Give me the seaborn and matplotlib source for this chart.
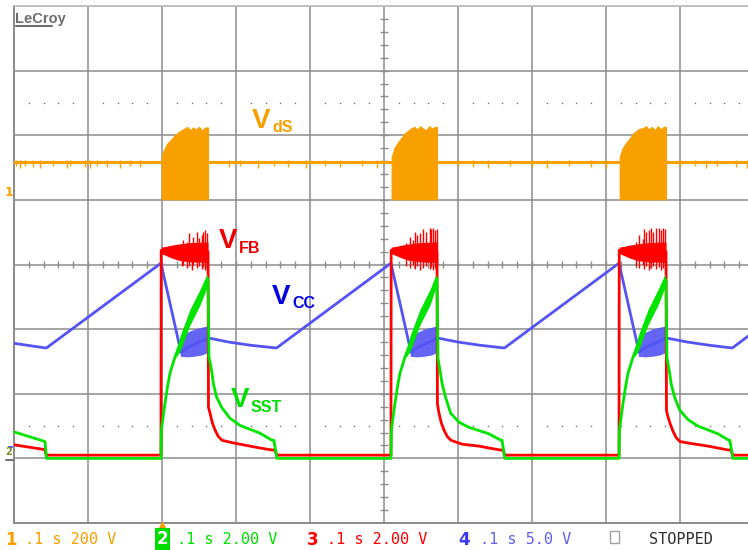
import numpy as np
import matplotlib
matplotlib.use("Agg")
import matplotlib.pyplot as plt
import seaborn as sns

# ---------------- data (time in ms, amplitude in screen divisions) ----------------
red_t = [0, 39.2, 41.9, 43.5,
         198.6, 198.9, 262.2, 262.8, 264.9, 268.0, 271.6, 276.0, 281.1, 296.0, 318.9, 332.4, 348.6, 352.7, 355.0,
         509.4, 509.7, 571.6, 572.2, 574.3, 577.4, 581.0, 585.4, 590.5, 605.4, 628.3, 641.8, 657.0, 660.8, 663.1,
         817.6, 817.9, 881.1, 881.7, 883.8, 886.9, 890.5, 894.9, 900.0, 914.9, 937.8, 951.3, 965.0, 968.9, 971.2, 1000]
red_v = [-2.79, -2.86, -2.87, -2.95,
         -2.95, 0.22, 0.20, -2.21, -2.30, -2.45, -2.56, -2.66, -2.72, -2.76, -2.81, -2.84, -2.87, -2.87, -2.95,
         -2.95, 0.22, 0.20, -2.16, -2.30, -2.45, -2.56, -2.66, -2.72, -2.78, -2.81, -2.84, -2.87, -2.87, -2.95,
         -2.95, 0.22, 0.20, -2.26, -2.36, -2.47, -2.58, -2.68, -2.74, -2.77, -2.81, -2.84, -2.87, -2.87, -2.95, -2.95]

green_t = [0, 39.2, 41.9, 44.0,
           198.6, 199.2, 201.6, 204.1, 207.6, 210.8, 217.6, 224.6, 237.6, 251.4, 262.2,
           263.5, 266.9, 269.2, 273.7, 280.6, 291.9, 305.4, 332.4, 348.6, 351.2, 355.2,
           509.4, 510.0, 512.4, 514.9, 518.4, 521.6, 528.4, 535.4, 548.4, 562.2, 571.6,
           572.9, 576.3, 578.6, 583.1, 590.0, 601.3, 614.8, 641.8, 658.0, 659.5, 663.3,
           817.6, 818.2, 820.6, 823.1, 826.6, 829.8, 836.6, 843.6, 856.6, 870.4, 881.1,
           882.4, 885.8, 888.1, 892.6, 899.5, 910.8, 924.3, 951.3, 966.0, 967.4, 971.4, 1000]
green_v = [-2.59, -2.73, -2.74, -3.0,
           -3.0, -2.56, -2.35, -2.14, -1.88, -1.68, -1.43, -1.22, -0.82, -0.50, -0.22,
           -1.43, -1.63, -1.83, -2.05, -2.21, -2.38, -2.49, -2.61, -2.72, -2.72, -3.0,
           -3.0, -2.56, -2.35, -2.14, -1.88, -1.68, -1.43, -1.22, -0.82, -0.50, -0.22,
           -1.45, -1.68, -1.85, -2.05, -2.30, -2.44, -2.52, -2.62, -2.72, -2.72, -3.0,
           -3.0, -2.56, -2.35, -2.14, -1.88, -1.68, -1.43, -1.22, -0.82, -0.50, -0.24,
           -1.45, -1.66, -1.85, -2.05, -2.25, -2.40, -2.50, -2.62, -2.72, -2.72, -3.0, -3.0]

blue_t = [0, 41.9, 44.0, 198.6, 225.7, 235.0, 262.2, 264.0, 290.0, 320.0, 352.7, 355.0,
          509.4, 536.5, 546.0, 571.6, 573.5, 600.0, 630.0, 660.8, 663.0,
          817.6, 844.7, 854.0, 881.1, 883.0, 910.0, 940.0, 968.9, 971.0, 1000]
blue_v = [-1.22, -1.29, -1.29, 0.02, -1.36, -1.28, -1.14, -1.14, -1.20, -1.25, -1.29, -1.29,
          0.02, -1.36, -1.28, -1.14, -1.14, -1.20, -1.25, -1.29, -1.29,
          0.02, -1.36, -1.28, -1.14, -1.14, -1.20, -1.25, -1.29, -1.29, -1.04]

orange_base = 1.58
orange_floor = 1.01
orange_burst_t = [
    [199.5, 202, 207, 213, 218, 225, 230, 234, 238, 242, 246, 250, 254, 258, 262.2],
    [510.3, 514, 519, 523, 528, 536, 541, 545, 549, 553, 557, 561, 565, 569, 571.6],
    [818.5, 822, 827, 832, 837, 845, 850, 854, 858, 862, 866, 870, 874, 878, 881.1]]
orange_burst_top = [
    [1.66, 1.76, 1.87, 1.94, 2.01, 2.07, 2.10, 2.13, 2.08, 2.12, 2.09, 2.13, 2.07, 2.12, 2.12],
    [1.66, 1.80, 1.89, 1.95, 2.03, 2.10, 2.13, 2.09, 2.14, 2.10, 2.08, 2.14, 2.10, 2.13, 2.13],
    [1.66, 1.79, 1.88, 1.95, 2.03, 2.10, 2.11, 2.14, 2.09, 2.13, 2.08, 2.14, 2.09, 2.13, 2.13]]
orange_glitch_t = [3, 8, 15, 25, 35, 53, 72, 76, 96, 103, 112, 126, 143, 157, 170, 290, 305, 330,
                   352, 370, 395, 420, 440, 470, 490, 600, 620, 640, 670, 700, 720, 750, 780, 800,
                   900, 920, 935, 950, 975, 990]
orange_glitch_v = [1.52, 1.50, 1.53, 1.51, 1.50, 1.53, 1.50, 1.52, 1.51, 1.50, 1.53, 1.51, 1.50, 1.52,
                   1.51, 1.51, 1.53, 1.50, 1.52, 1.51, 1.50, 1.53, 1.51, 1.52, 1.50, 1.52, 1.51, 1.50,
                   1.53, 1.51, 1.50, 1.52, 1.51, 1.50, 1.51, 1.53, 1.50, 1.52, 1.51, 1.50]

red_band_t = [[198.8, 205, 213, 224, 239, 262.2],
              [509.6, 516, 524, 535, 550, 571.6],
              [817.8, 824, 832, 843, 858, 881.1]]
red_band_lo = [0.17, 0.14, 0.10, 0.06, 0.04, 0.03]
red_band_hi = [0.27, 0.28, 0.30, 0.32, 0.34, 0.35]
red_spike_t = [226.6, 228.8, 233.3, 236.9, 240.1, 242.3, 246.9, 250.4, 253.6, 255.8, 258.1, 260.4,
               530.2, 534.7, 539.2, 542.3, 545.0, 548.2, 552.7, 557.2, 561.8, 563.9, 566.2, 569.3, 571.2,
               840.5, 845.0, 849.6, 851.8, 854.1, 857.7, 860.8, 863.1, 867.6, 872.0, 874.3, 876.6, 880.1]
red_spike_top = [0.30, 0.38, 0.35, 0.48, 0.33, 0.43, 0.51, 0.41, 0.46, 0.51, 0.53, 0.48,
                 0.33, 0.43, 0.38, 0.51, 0.46, 0.48, 0.55, 0.51, 0.56, 0.55, 0.56, 0.53, 0.55,
                 0.35, 0.45, 0.40, 0.55, 0.50, 0.53, 0.56, 0.50, 0.56, 0.56, 0.53, 0.56, 0.55]
red_spike_low = [-0.02, 0.00, -0.05, -0.03, -0.08, 0.00, -0.06, -0.02, -0.07, -0.04, -0.08, -0.05,
                 -0.02, -0.05, 0.00, -0.07, -0.03, -0.08, -0.05, -0.02, -0.07, -0.04, -0.08, -0.05, -0.03,
                 -0.02, -0.05, 0.00, -0.07, -0.03, -0.08, -0.05, -0.02, -0.07, -0.04, -0.08, -0.05, -0.03]

green_band_t = [[218.6, 224.6, 237.6, 251.6, 261.2],
                [529.4, 535.4, 548.4, 562.4, 570.6],
                [837.6, 843.6, 856.6, 870.6, 880.1]]
green_band_lo = [-1.44, -1.34, -0.94, -0.62, -0.34]
green_band_hi = [-1.36, -1.10, -0.70, -0.38, -0.14]

blue_band_t = [[224.6, 233.6, 243.6, 253.6, 262.2],
               [535.4, 544.4, 554.4, 564.4, 571.6],
               [843.6, 852.6, 862.6, 872.6, 881.1]]
blue_band_lo = [-1.42, -1.43, -1.42, -1.40, -1.36]
blue_band_hi = [-1.15, -1.05, -1.00, -0.97, -0.95]

# ---------------- styling ----------------
C_OR = "#F7A000"
C_RED = "#FF0000"
C_GRN = "#00E400"
C_BLU = "#5454F4"
GRID = "#8C8C8C"

sns.set_theme(style="white")
plt.rcParams['font.family'] = ['DejaVu Sans']

W, H = 748, 550
fig = plt.figure(figsize=(W / 100, H / 100), dpi=100)
fig.patch.set_facecolor("white")
ax = fig.add_axes([14 / W, (H - 523) / H, 740 / W, 517 / H])
ax.set_facecolor("white")
ax.set_xlim(0, 1000)
ax.set_ylim(-4, 4)
ax.set_xticks(np.arange(0, 1001, 100))
ax.set_yticks(np.arange(-4, 5, 1))
ax.tick_params(length=0, labelbottom=False, labelleft=False)
ax.grid(True, color=GRID, lw=1.1)
ax.set_axisbelow(True)
for s in ["left", "bottom"]:
    ax.spines[s].set_color(GRID)
    ax.spines[s].set_linewidth(1.4)
ax.spines["top"].set_color("#BDBDBD")
ax.spines["top"].set_linewidth(1.2)
ax.spines["right"].set_visible(False)

# dotted marker rows and centre cross ticks
minor_x = [x for x in np.arange(20, 1000, 20) if x % 100 != 0]
for yy in (2.5, -2.5):
    ax.scatter(minor_x, [yy] * len(minor_x), s=1.2, color="#707070", lw=0, zorder=1)
ax.vlines(np.arange(20, 1000, 20), -0.05, 0.05, color=GRID, lw=1.0, zorder=1)
ax.hlines(np.arange(-3.8, 4.0, 0.2), 494.6, 505.4, color=GRID, lw=1.0, zorder=1)

# ---- channel 1 (orange) ----
sns.lineplot(x=[0, 1000], y=[orange_base, orange_base], color=C_OR, lw=2.2, ax=ax,
             sort=False, estimator=None, zorder=3)
ax.vlines(orange_glitch_t, orange_glitch_v, orange_base + 0.04, color=C_OR, lw=1.0, zorder=3)
for bt, bv in zip(orange_burst_t, orange_burst_top):
    ax.fill_between(bt, orange_floor, bv, color=C_OR, lw=0.8, edgecolor=C_OR, zorder=3)

# ---- channel 4 (blue) ----
for bt in blue_band_t:
    ax.fill_between(bt, blue_band_lo, blue_band_hi, color=C_BLU, lw=0, alpha=0.9, zorder=4)
sns.lineplot(x=blue_t, y=blue_v, color=C_BLU, lw=2.0, ax=ax, sort=False, estimator=None, zorder=4)

# ---- channel 3 (red) ----
for bt in red_band_t:
    ax.fill_between(bt, red_band_lo, red_band_hi, color=C_RED, lw=0, zorder=5)
ax.vlines(red_spike_t, red_spike_low, red_spike_top, color=C_RED, lw=1.0, zorder=5)
sns.lineplot(x=red_t, y=red_v, color=C_RED, lw=2.0, ax=ax, sort=False, estimator=None, zorder=5)

# ---- channel 2 (green) ----
for bt in green_band_t:
    ax.fill_between(bt, green_band_lo, green_band_hi, color=C_GRN, lw=0, zorder=6)
sns.lineplot(x=green_t, y=green_v, color=C_GRN, lw=2.0, ax=ax, sort=False, estimator=None, zorder=6)

if ax.get_legend() is not None:
    ax.get_legend().remove()
ax.set_xlabel("")
ax.set_ylabel("")

# trigger position marker
ax.plot([200], [-4.03], marker="^", ms=5, color=C_OR, clip_on=False, zorder=7, lw=0)


def ftext(px, py, s, **kw):
    return fig.text(px / W, 1 - py / H, s, va="baseline", ha="left", **kw)


LBL = ["Liberation Sans", "DejaVu Sans"]
# signal labels
ftext(252, 128, "V", color="#F5A000", fontsize=20, fontweight="bold", family=LBL)
ftext(272, 132, "dS", color="#F5A000", fontsize=11.5, fontweight="bold", family=LBL)
ftext(219, 248, "V", color="#EE0000", fontsize=20, fontweight="bold", family=LBL)
ftext(239, 253, "FB", color="#EE0000", fontsize=11.5, fontweight="bold", family=LBL)
ftext(272, 304, "V", color="#0000E6", fontsize=20, fontweight="bold", family=LBL)
ftext(292, 308, "CC", color="#0000E6", fontsize=11.5, fontweight="bold", family=LBL)
ftext(231, 407, "V", color="#00DD00", fontsize=20, fontweight="bold", family=LBL)
ftext(251, 412, "SST", color="#00DD00", fontsize=11.5, fontweight="bold", family=LBL)

# LeCroy logo
ftext(15, 23, "LeCroy", color="#6E6E6E", fontsize=10.5, fontweight="bold",
      family=["Liberation Sans Narrow", "Liberation Sans", "DejaVu Sans"])
fig.add_artist(plt.Line2D([16 / W, 52 / W], [1 - 25.5 / H, 1 - 25.5 / H],
                          color="#6E6E6E", lw=1.5))

# left-edge channel markers
ftext(5, 196, "1", color=C_OR, fontsize=9, fontweight="bold")
ftext(5, 455, "2", color="#7A8A20", fontsize=7, fontweight="bold")
fig.add_artist(plt.Line2D([9 / W, 12 / W], [1 - 447 / H, 1 - 447 / H], color=C_BLU, lw=1.5))
fig.add_artist(plt.Line2D([6 / W, 13 / W], [1 - 460 / H, 1 - 460 / H], color="#555555", lw=1.2))

# bottom status line
MONO = ["DejaVu Sans Mono"]
ftext(5, 545, "1", color="#F5A000", fontsize=12, fontweight="bold")
ftext(25, 544, ".1 s 200 V", color="#F5A000", fontsize=11, family=MONO)
ftext(157, 544, "2", color="white", fontsize=12, fontweight="bold",
      bbox=dict(facecolor="#00DD00", edgecolor="none", pad=1.2))
ftext(177, 544, ".1 s 2.00 V", color="#00DD00", fontsize=11, family=MONO)
ftext(307, 545, "3", color="#FF0000", fontsize=12, fontweight="bold")
ftext(327, 544, ".1 s 2.00 V", color="#FF0000", fontsize=11, family=MONO)
ftext(458, 545, "4", color="#3A3AF0", fontsize=12, fontweight="bold")
ftext(480, 544, ".1 s 5.0 V", color="#6060F0", fontsize=11, family=MONO)
fig.add_artist(plt.Rectangle((610 / W, 1 - 543 / H), 9 / W, 12 / H, fill=False,
                             edgecolor="#A0A0A0", lw=1.0))
ftext(649, 544, "STOPPED", color="#303030", fontsize=11, family=MONO)

fig.savefig("out.png", dpi=100, facecolor="white")
